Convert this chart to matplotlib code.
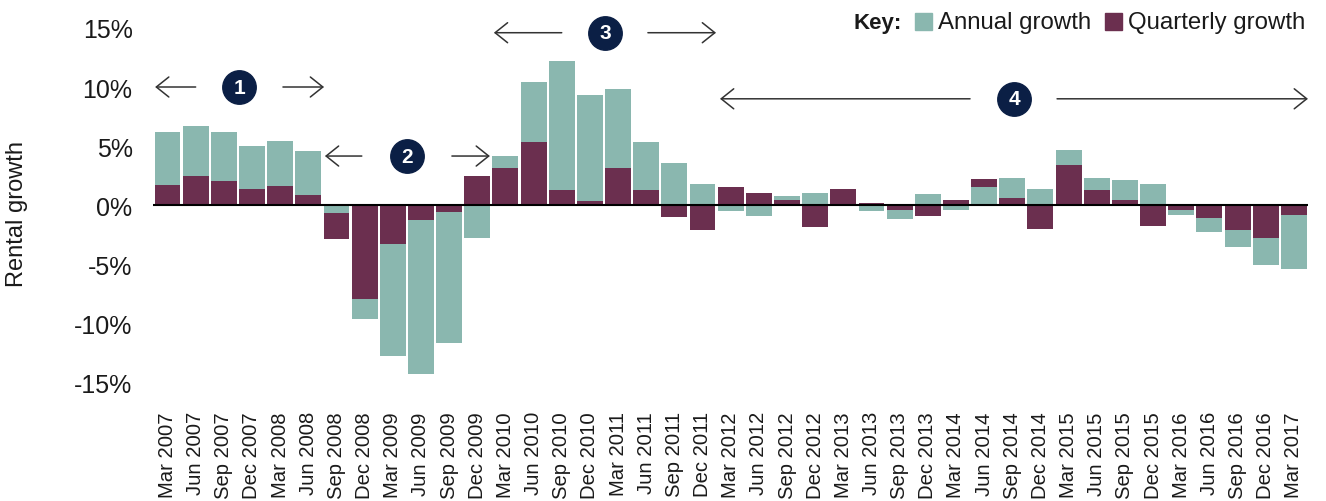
import numpy as np
import matplotlib
matplotlib.use("Agg")
import matplotlib.pyplot as plt
from matplotlib.patches import Rectangle

quarters = [
    "Mar 2007", "Jun 2007", "Sep 2007", "Dec 2007",
    "Mar 2008", "Jun 2008", "Sep 2008", "Dec 2008",
    "Mar 2009", "Jun 2009", "Sep 2009", "Dec 2009",
    "Mar 2010", "Jun 2010", "Sep 2010", "Dec 2010",
    "Mar 2011", "Jun 2011", "Sep 2011", "Dec 2011",
    "Mar 2012", "Jun 2012", "Sep 2012", "Dec 2012",
    "Mar 2013", "Jun 2013", "Sep 2013", "Dec 2013",
    "Mar 2014", "Jun 2014", "Sep 2014", "Dec 2014",
    "Mar 2015", "Jun 2015", "Sep 2015", "Dec 2015",
    "Mar 2016", "Jun 2016", "Sep 2016", "Dec 2016",
    "Mar 2017",
]

# rental growth, %
annual = [6.2, 6.7, 6.2, 5.0, 5.4, 4.6, -0.7, -9.7, -12.8, -14.3, -11.7, -2.8,
          4.15, 10.4, 12.2, 9.3, 9.8, 5.3, 3.6, 1.8, -0.5, -0.95, 0.75, 1.0,
          0.0, -0.5, -1.2, 0.9, -0.45, 1.5, 2.3, 1.35, 4.65, 2.3, 2.1, 1.8,
          -0.85, -2.3, -3.6, -5.1, -5.4]
quarterly = [1.7, 2.5, 2.0, 1.35, 1.6, 0.85, -2.9, -8.0, -3.3, -1.3, -0.6, 2.5,
             3.1, 5.3, 1.3, 0.35, 3.1, 1.3, -1.0, -2.1, 1.5, 1.0, 0.4, -1.9,
             1.35, 0.15, -0.4, -0.95, 0.4, 2.2, 0.6, -2.0, 3.4, 1.3, 0.4, -1.8,
             -0.4, -1.1, -2.1, -2.8, -0.85]

y_ticks = [-15, -10, -5, 0, 5, 10, 15]

# phase markers: (number, y, left head, left tail, centre, right tail, right head)
phases = [
    ("1", 10.0, -0.44, 1.0, 2.54, 4.1, 5.56),
    ("2", 4.15, 5.59, 6.9, 8.5, 10.1, 11.45),
    ("3", 14.6, 11.59, 14.0, 15.54, 17.06, 19.48),
    ("4", 9.0, 19.62, 28.5, 30.06, 31.59, 40.5),
]

TEAL = "#8ab7af"
MAROON = "#6b2f4f"
NAVY = "#0b1f45"
TEXT = "#1a1a1a"

plt.rcParams["font.family"] = ["Liberation Sans", "DejaVu Sans"]

fig = plt.figure(figsize=(13.26, 5.02), dpi=100)
ax = fig.add_axes([0.1157, 0.2135, 0.8707, 0.764])

x = np.arange(len(quarters))
a = np.array(annual)
q = np.array(quarterly)

# the larger of the two values sits behind, the smaller one in front
a_back = np.abs(a) >= np.abs(q)
back_vals = np.where(a_back, a, q)
front_vals = np.where(a_back, q, a)
back_cols = [TEAL if f else MAROON for f in a_back]
front_cols = [MAROON if f else TEAL for f in a_back]

w = 0.92
ax.bar(x, back_vals, width=w, color=back_cols, linewidth=0, zorder=2)
ax.bar(x, front_vals, width=w, color=front_cols, linewidth=0, zorder=3)
ax.axhline(0, color="black", lw=1.5, zorder=4)

ax.set_xlim(-0.5, len(quarters) - 0.5)
ax.set_ylim(-16, 16.5)
ax.set_yticks(y_ticks)
ax.set_yticklabels([f"{t}%" for t in y_ticks])
ax.set_xticks(x)
ax.set_xticklabels(quarters, rotation=90)
ax.tick_params(axis="y", length=0, pad=15, labelsize=18, labelcolor=TEXT)
ax.tick_params(axis="x", length=0, pad=12.5, labelsize=14.6, labelcolor=TEXT)
for s in ax.spines.values():
    s.set_visible(False)

fig.text(17 / 1326, 1 - 214 / 502, "Rental growth", rotation=90,
         ha="center", va="center", fontsize=17, color=TEXT)

# numbered phase arrows
arrow_kw = dict(arrowstyle="->,head_length=0.5,head_width=0.4",
                lw=1.1, color="#333333", mutation_scale=18,
                shrinkA=0, shrinkB=0)
for num, yy, lh, lt, c, rt, rh in phases:
    ax.annotate("", xy=(lh, yy), xytext=(lt, yy), arrowprops=arrow_kw,
                annotation_clip=False, zorder=5)
    ax.annotate("", xy=(rh, yy), xytext=(rt, yy), arrowprops=arrow_kw,
                annotation_clip=False, zorder=5)
    ax.scatter([c], [yy], s=580, color=NAVY, zorder=6, clip_on=False)
    ax.text(c, yy, num, ha="center", va="center", color="white",
            fontsize=15, fontweight="bold", zorder=7)

# key
fig.text(853 / 1326, 1 - 23 / 502, "Key:", fontsize=16, fontweight="bold",
         ha="left", va="center", color=TEXT)
for x0, label, col in [(915, "Annual growth", TEAL), (1105, "Quarterly growth", MAROON)]:
    fig.patches.append(Rectangle((x0 / 1326, 1 - 31 / 502), 17 / 1326, 17 / 502,
                                 transform=fig.transFigure, color=col))
    fig.text((x0 + 23) / 1326, 1 - 23 / 502, label, fontsize=17.3,
             ha="left", va="center", color=TEXT)

fig.savefig("out.png", dpi=100)
